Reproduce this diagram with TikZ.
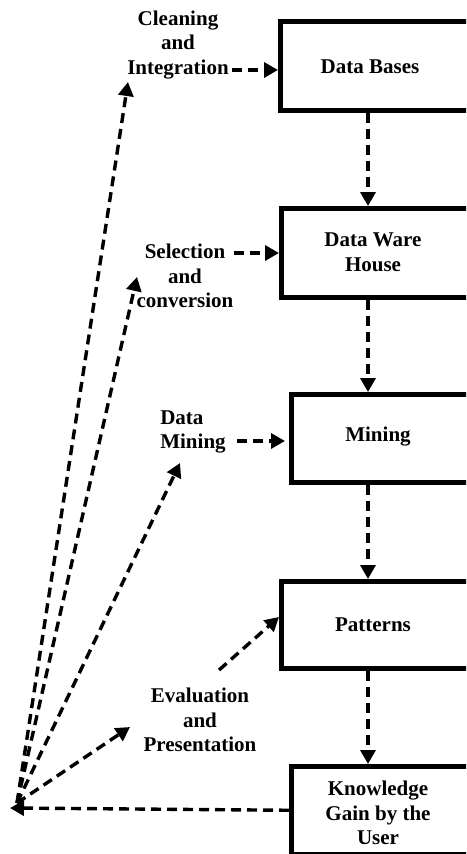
\documentclass[tikz,border=0pt]{standalone}
\usepackage{fontspec}
\setmainfont{Liberation Serif}
\usetikzlibrary{arrows.meta}
\begin{document}
\begin{tikzpicture}[x=1pt,y=-1pt,
  box/.style={draw, line width=4.5pt, anchor=north west, inner sep=0pt, minimum width=230pt},
  lbl/.style={font=\fontsize{21}{24.5}\selectfont\bfseries, align=center, inner sep=0pt},
  arr/.style={line width=3.4pt, dash pattern=on 10pt off 6pt, -{Triangle[length=14pt,width=15pt]}}]
\useasboundingbox (0,0) rectangle (466,854);
\clip (0,0) rectangle (466,854);
% boxes
\node[box, minimum height=89pt] (db) at (278,19) {};
\node[box, minimum height=89pt] (dwh) at (279,206) {};
\node[box, minimum height=88pt] (mining) at (289,392) {};
\node[box, minimum height=87pt] (pat) at (279,579) {};
\node[box, minimum height=88pt] (kn) at (289,764) {};
% box texts
\node[lbl] (dbt) at (370,67) {Data Bases};
\node[lbl] (dwht) at (373,252) {Data Ware\\House};
\node[lbl] (mt) at (378,437) {Mining};
\node[lbl] (pt) at (373,625) {Patterns};
\node[lbl] (kt) at (378,813) {Knowledge\\Gain by the\\User};
% step labels
\node[lbl] (cl) at (178,45) {Cleaning\\and\\Integration};
\node[lbl] (sel) at (185,276) {Selection\\and\\conversion};
\node[lbl, align=left] (dm) at (193,432) {Data\\Mining};
\node[lbl] (ev) at (200,720) {Evaluation\\and\\Presentation};
% helper coordinates
\coordinate (ax) at (368,0);
\coordinate (o) at (17,803);
\coordinate (otip) at (10,808);
\coordinate (cltip) at (128,82);
\coordinate (seltip) at (137,277);
\coordinate (dmtip) at (180,463);
\coordinate (evtip) at (130,727);
\coordinate (evstart) at (219,670);
% main flow
\draw[arr] (ax |- db.south) -- (ax |- dwh.north);
\draw[arr] (ax |- dwh.south) -- (ax |- mining.north);
\draw[arr] (ax |- mining.south) -- (ax |- pat.north);
\draw[arr] (ax |- pat.south) -- (ax |- kn.north);
% label to box
\draw[arr] ([xshift=3pt]cl.east |- 0,70) -- (db.west |- 0,70);
\draw[arr] (sel.east |- 0,253) -- (dwh.west |- 0,253);
\draw[arr] ([xshift=11pt]dm.east |- 0,441) -- ([xshift=-4pt]mining.west |- 0,441);
\draw[arr] (evstart) -- (pat.west |- 0,617);
% feedback
\draw[arr] (kn.west) -- (otip);
\draw[arr] (o) -- (cltip);
\draw[arr] (o) -- (seltip);
\draw[arr] (o) -- (dmtip);
\draw[arr] (o) -- (evtip);
\end{tikzpicture}
\end{document}
